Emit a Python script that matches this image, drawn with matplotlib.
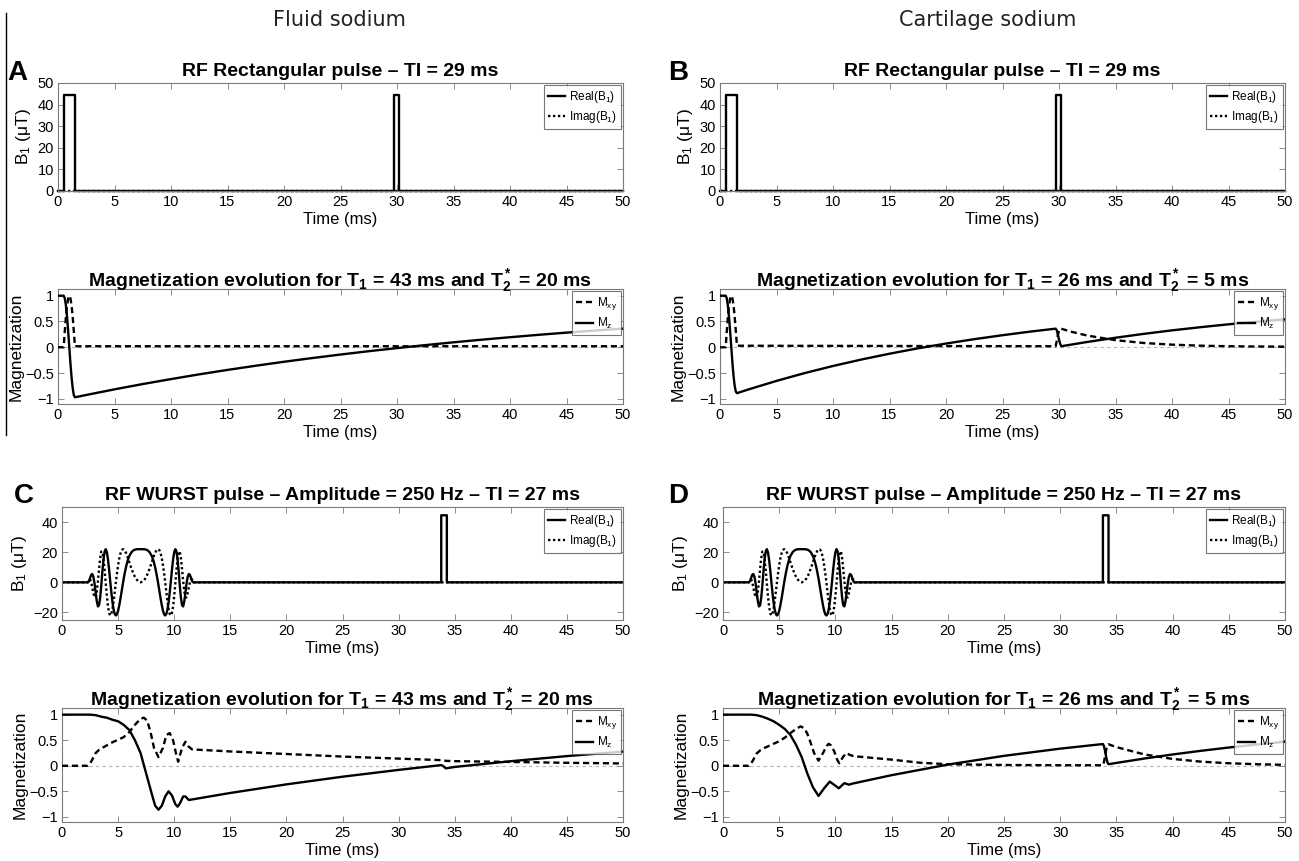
import matplotlib
matplotlib.use("Agg")
import matplotlib.pyplot as plt
from matplotlib.ticker import FuncFormatter

plt.rcParams['font.family'] = ['Liberation Sans', 'DejaVu Sans']
plt.rcParams['mathtext.default'] = 'regular'

# ---- B1 of the rectangular inversion + 90 deg readout (panels A, B)
t_rect = [0, 0.5, 0.5, 1.5, 1.5, 29.7, 29.7, 30.2, 30.2, 50]
b1_rect = [0, 0, 44.5, 44.5, 0, 0, 44.5, 44.5, 0, 0]
t_rect_im = [0, 50]
b1_rect_im = [0, 0]

# ---- B1 of the WURST inversion + readout pulse at 34 ms (panels C, D)
t_wurst = [0, 2.3, 2.4, 2.5, 2.6, 2.7, 2.8, 2.9, 3.0, 3.1, 3.2, 3.3, 3.4, 3.5, 3.6, 3.7, 3.8,
           3.9, 4.0, 4.1, 4.2, 4.3, 4.4, 4.5, 4.6, 4.7, 4.8, 4.9, 5.0, 5.1, 5.2, 5.3, 5.4,
           5.5, 5.6, 5.7, 5.8, 5.9, 6.0, 6.2, 6.4, 6.6, 6.8, 7.0,
           7.2, 7.4, 7.6, 7.8, 8.0, 8.1, 8.2, 8.3, 8.4, 8.5, 8.6, 8.7, 8.8, 8.9, 9.0, 9.1,
           9.2, 9.3, 9.4, 9.5, 9.6, 9.7, 9.8, 9.9, 10.0, 10.1, 10.2, 10.3, 10.4, 10.5, 10.6,
           10.7, 10.8, 10.9, 11.0, 11.1, 11.2, 11.3, 11.4, 11.5, 11.6, 11.7]
re_wurst = [0, 0, 0.7, 2.9, 5.0, 5.5, 3.6, -0.7, -6.8, -12.5, -16.0, -15.2, -10.3, -2.2, 7.2,
            15.4, 20.5, 22.0, 20.0, 15.1, 8.3, 0.6, -6.8, -13.3, -18.1, -21.0, -22.0, -21.2,
            -18.9, -15.4, -11.2, -6.7, -2.0, 2.4, 6.4, 10.0, 13.0, 15.5, 17.5, 20.1, 21.4,
            21.9, 22.0, 22.0,
            22.0, 21.9, 21.4, 20.1, 17.5, 15.5, 13.0, 10.0, 6.4, 2.4, -2.0, -6.7, -11.2,
            -15.4, -18.9, -21.2, -22.0, -21.0, -18.1, -13.3, -6.8, 0.6, 8.3, 15.1, 20.0, 22.0,
            20.5, 15.4, 7.2, -2.2, -10.3, -15.2, -16.0, -12.5, -6.8, -0.7, 3.6, 5.5, 5.0, 2.9,
            0.7, 0]
im_wurst = [0, 0, 1.9, 2.0, 0.1, -3.4, -7.1, -10.0, -9.9, -6.2, 0.6, 8.7, 16.0, 20.4, 20.3,
            15.7, 8.0, -0.8, -9.2, -16.0, -20.4, -22.0, -20.9, -17.6, -12.5, -6.5, -0.1, 5.9,
            11.3, 15.7, 18.9, 21.0, 21.9, 21.9, 21.0, 19.6, 17.7, 15.6, 13.3, 8.9, 5.1, 2.3,
            0.6, 0,
            0.6, 2.3, 5.1, 8.9, 13.3, 15.6, 17.7, 19.6, 21.0, 21.9, 21.9, 21.0, 18.9, 15.7,
            11.3, 5.9, -0.1, -6.5, -12.5, -17.6, -20.9, -22.0, -20.4, -16.0, -9.2, -0.8, 8.0,
            15.7, 20.3, 20.4, 16.0, 8.7, 0.6, -6.2, -9.9, -10.0, -7.1, -3.4, 0.1, 2.0, 1.9, 0]
t_ro = [11.7, 33.8, 33.8, 34.3, 34.3, 50]
b1_ro = [0, 0, 44.5, 44.5, 0, 0]

# ---- magnetization, fluid, rectangular (A)
t_mz_a = [0, 0.5, 0.6, 0.7, 0.8, 0.9, 1.0, 1.1, 1.2, 1.3, 1.4, 1.5, 2.5, 5, 7.5, 10, 12.5,
          15, 17.5, 20, 22.5, 25, 27.5, 30, 32.5, 35, 37.5, 40, 42.5, 45, 47.5, 50]
mz_a = [1, 1, 0.95, 0.81, 0.59, 0.31, 0.0, -0.31, -0.58, -0.79, -0.93, -0.97, -0.925,
        -0.816, -0.713, -0.617, -0.525, -0.439, -0.358, -0.281, -0.209, -0.141, -0.076,
        -0.016, 0.042, 0.096, 0.147, 0.195, 0.241, 0.284, 0.324, 0.362]
t_mxy_a = [0, 0.5, 0.6, 0.7, 0.8, 0.9, 1.0, 1.1, 1.2, 1.3, 1.4, 1.5, 50]
mxy_a = [0, 0, 0.31, 0.59, 0.81, 0.95, 1.0, 0.95, 0.81, 0.59, 0.31, 0.02, 0.02]

# ---- magnetization, cartilage, rectangular (B)
t_mz_b = [0, 0.5, 0.6, 0.7, 0.8, 0.9, 1.0, 1.1, 1.2, 1.3, 1.4, 1.5, 2.5, 5, 7.5, 10, 12.5,
          15, 17.5, 20, 22.5, 25, 27.5, 29.7, 29.8, 29.9, 30.0, 30.1, 30.2, 32.5, 35, 37.5,
          40, 42.5, 45, 47.5, 50]
mz_b = [1, 1, 0.95, 0.8, 0.58, 0.3, 0.0, -0.3, -0.56, -0.75, -0.86, -0.89, -0.819, -0.652,
        -0.5, -0.363, -0.238, -0.125, -0.021, 0.072, 0.157, 0.234, 0.305, 0.361, 0.33, 0.25,
        0.15, 0.07, 0.02, 0.103, 0.185, 0.26, 0.328, 0.389, 0.445, 0.496, 0.542]
t_mxy_b = [0, 0.5, 0.6, 0.7, 0.8, 0.9, 1.0, 1.1, 1.2, 1.3, 1.4, 1.5, 29.7, 29.8, 29.9, 30.0,
           30.1, 30.2, 31, 32.5, 35, 37.5, 40, 42.5, 45, 47.5, 50]
mxy_b = [0, 0, 0.31, 0.59, 0.81, 0.95, 1.0, 0.95, 0.81, 0.59, 0.31, 0.03, 0.02, 0.12, 0.24,
         0.32, 0.36, 0.36, 0.306, 0.227, 0.138, 0.083, 0.051, 0.031, 0.02, 0.015, 0.012]

# ---- magnetization, fluid, WURST (C)
t_mz_c = [0, 2.5, 3, 3.5, 4, 4.5, 5, 5.5, 6, 6.5, 7, 7.5, 8, 8.3, 8.6, 8.9, 9.2, 9.5, 9.8,
          10.1, 10.3, 10.5, 10.8, 11.0, 11.3, 15, 20, 25, 30, 33.8, 34.0, 34.2, 34.4, 35, 40,
          45, 50]
mz_c = [1, 1, 0.99, 0.96, 0.94, 0.9, 0.87, 0.8, 0.7, 0.5, 0.25, -0.15, -0.55, -0.78, -0.86,
        -0.78, -0.6, -0.5, -0.58, -0.75, -0.8, -0.74, -0.6, -0.6, -0.67, -0.532, -0.364,
        -0.214, -0.081, 0.013, -0.01, -0.05, -0.045, -0.023, 0.089, 0.189, 0.278]
t_mxy_c = [0, 2.3, 2.6, 3.0, 3.3, 3.6, 4.0, 4.5, 5.0, 5.5, 6.0, 6.5, 7.0, 7.3, 7.6, 7.9, 8.2,
           8.6, 9.0, 9.3, 9.6, 9.9, 10.15, 10.35, 10.7, 11.0, 11.3, 11.6, 15, 20, 25, 30,
           33.8, 34.3, 35, 40, 45, 50]
mxy_c = [0, 0, 0.08, 0.25, 0.31, 0.35, 0.4, 0.46, 0.51, 0.56, 0.66, 0.8, 0.92, 0.94, 0.88,
         0.65, 0.35, 0.17, 0.35, 0.6, 0.64, 0.5, 0.25, 0.08, 0.35, 0.47, 0.37, 0.32, 0.28,
         0.23, 0.18, 0.14, 0.11, 0.095, 0.09, 0.075, 0.058, 0.045]

# ---- magnetization, cartilage, WURST (D)
t_mz_d = [0, 2.5, 3, 3.5, 4, 4.5, 5, 5.5, 6, 6.5, 7, 7.5, 8, 8.5, 9, 9.5, 10, 10.3, 10.8,
          11.2, 11.5, 15, 20, 25, 30, 33.8, 33.9, 34.0, 34.1, 34.2, 34.3, 35, 37.5, 40, 42.5,
          45, 47.5, 50]
mz_d = [1, 1, 0.99, 0.96, 0.92, 0.87, 0.8, 0.72, 0.6, 0.41, 0.17, -0.15, -0.42, -0.59,
        -0.44, -0.31, -0.39, -0.44, -0.34, -0.37, -0.35, -0.184, 0.023, 0.194, 0.335, 0.425,
        0.38, 0.28, 0.16, 0.07, 0.03, 0.056, 0.142, 0.221, 0.292, 0.357, 0.416, 0.47]
t_mxy_d = [0, 2.3, 2.6, 3.0, 3.3, 3.6, 4.0, 4.5, 5.0, 5.5, 6.0, 6.5, 6.9, 7.2, 7.5, 7.8, 8.1,
           8.5, 8.9, 9.2, 9.4, 9.6, 9.9, 10.15, 10.35, 10.7, 11.0, 11.3, 11.6, 12, 15, 17.5,
           20, 25, 30, 33.8, 33.9, 34.0, 34.1, 34.2, 34.3, 35, 37.5, 40, 42.5, 45, 47.5, 50]
mxy_d = [0, 0, 0.08, 0.24, 0.3, 0.34, 0.38, 0.43, 0.48, 0.55, 0.64, 0.72, 0.77, 0.74, 0.63,
         0.45, 0.25, 0.1, 0.25, 0.38, 0.43, 0.4, 0.28, 0.12, 0.05, 0.18, 0.25, 0.21, 0.19,
         0.18, 0.12, 0.06, 0.03, 0.015, 0.01, 0.01, 0.08, 0.2, 0.32, 0.4, 0.42, 0.365, 0.221,
         0.134, 0.081, 0.049, 0.03, 0.018]

rf_titles = ["RF Rectangular pulse \u2013 TI = 29 ms",
             "RF WURST pulse \u2013 Amplitude = 250 Hz \u2013 TI = 27 ms"]
mag_titles = ["Magnetization evolution for T$_1$ = 43 ms and T$_2^*$ = 20 ms",
              "Magnetization evolution for T$_1$ = 26 ms and T$_2^*$ = 5 ms"]
col_titles = ["Fluid sodium", "Cartilage sodium"]

W, H = 1299, 861
fig = plt.figure(figsize=(W / 100, H / 100), dpi=100)


def box(l, t, r, b):
    return [l / W, 1 - b / H, (r - l) / W, (b - t) / H]


LW = 1.7
DOT = (0, (1.0, 1.1))
DASH = (0, (2.6, 1.6))
EDGE = '#7a7a7a'
# matlab style tick labels: 1, 0.5, 0, -0.5
short = FuncFormatter(lambda v, p: ('%g' % v).replace('-', '\u2212'))


def style(ax):
    for s in ax.spines.values():
        s.set_color(EDGE)
        s.set_linewidth(0.8)
    ax.tick_params(direction='in', top=True, right=True, length=4, width=0.6,
                   color=EDGE, labelsize=10.5, pad=3)
    ax.set_xlim(0, 50)
    ax.set_xticks(range(0, 51, 5))
    ax.yaxis.set_major_formatter(short)
    ax.set_xlabel("Time (ms)", fontsize=12, labelpad=2)


def legend(ax):
    lg = ax.legend(loc='upper right', fontsize=8.5, frameon=True, fancybox=False,
                   handlelength=1.5, handletextpad=0.3, borderpad=0.35,
                   labelspacing=0.35, borderaxespad=0.15)
    lg.get_frame().set_edgecolor('#555555')
    lg.get_frame().set_linewidth(0.8)


def rf_rect(rect, title):
    ax = fig.add_axes(box(*rect))
    ax.plot(t_rect, b1_rect, color='k', lw=LW, clip_on=False, label="Real(B$_1$)")
    ax.plot(t_rect_im, b1_rect_im, color='k', lw=LW, ls=DOT, clip_on=False,
            label="Imag(B$_1$)")
    style(ax)
    ax.set_ylim(0, 50)
    ax.set_yticks(range(0, 51, 10))
    ax.set_ylabel("B$_1$ ($\\mu$T)", fontsize=12.5, labelpad=3)
    ax.set_title(title, fontsize=14, fontweight='bold', pad=5)
    legend(ax)


def rf_wurst(rect, title):
    ax = fig.add_axes(box(*rect))
    ax.plot(t_wurst + t_ro, re_wurst + b1_ro, color='k', lw=LW, label="Real(B$_1$)")
    ax.plot(t_wurst + [50], im_wurst + [0], color='k', lw=LW, ls=DOT, label="Imag(B$_1$)")
    style(ax)
    ax.set_ylim(-25, 50)
    ax.set_yticks([-20, 0, 20, 40])
    ax.set_ylabel("B$_1$ ($\\mu$T)", fontsize=12.5, labelpad=3)
    ax.set_title(title, fontsize=14, fontweight='bold', pad=5)
    legend(ax)


def mag(rect, title, t_mxy, mxy, t_mz, mz):
    ax = fig.add_axes(box(*rect))
    ax.axhline(0, color='#b5b5b5', lw=0.8, ls=(0, (3, 3)), zorder=1)
    ax.plot(t_mxy, mxy, color='k', lw=LW, ls=DASH, label="M$_{xy}$", zorder=3)
    ax.plot(t_mz, mz, color='k', lw=LW, label="M$_z$", zorder=3)
    style(ax)
    ax.set_ylim(-1.1, 1.13)
    ax.set_yticks([-1, -0.5, 0, 0.5, 1])
    ax.set_ylabel("Magnetization", fontsize=12.5, labelpad=1)
    ax.set_title(title, fontsize=14, fontweight='bold', pad=2)
    legend(ax)


rf_rect((58, 83, 623, 191), rf_titles[0])
rf_rect((720, 83, 1285, 191), rf_titles[0])
mag((58, 289, 623, 404), mag_titles[0], t_mxy_a, mxy_a, t_mz_a, mz_a)
mag((720, 289, 1285, 404), mag_titles[1], t_mxy_b, mxy_b, t_mz_b, mz_b)
rf_wurst((62, 507, 623, 620), rf_titles[1])
rf_wurst((723, 507, 1285, 620), rf_titles[1])
mag((62, 708, 623, 822), mag_titles[0], t_mxy_c, mxy_c, t_mz_c, mz_c)
mag((723, 708, 1285, 822), mag_titles[1], t_mxy_d, mxy_d, t_mz_d, mz_d)

# column headers and panel letters
fig.text(339 / W, 1 - 20 / H, col_titles[0], fontsize=15, family='DejaVu Sans',
         color='#222222', ha='center', va='center')
fig.text(988 / W, 1 - 20 / H, col_titles[1], fontsize=15, family='DejaVu Sans',
         color='#222222', ha='center', va='center')
for letter, x, y in [("A", 7, 80), ("B", 668, 80), ("C", 14, 503), ("D", 668, 503)]:
    fig.text(x / W, 1 - y / H, letter, fontsize=20, fontweight='bold', ha='left',
             va='baseline')

# thin divider on the left edge
fig.add_artist(plt.Line2D([6 / W, 6 / W], [1 - 13 / H, 1 - 435 / H],
                          transform=fig.transFigure, color='k', lw=1))

fig.savefig("out.png", dpi=100)
